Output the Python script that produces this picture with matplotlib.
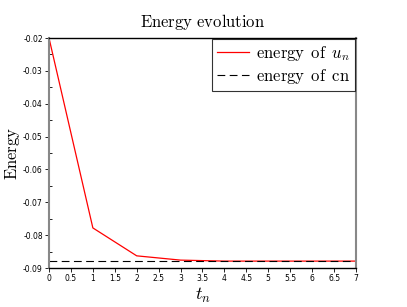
import matplotlib
matplotlib.use("Agg")
import matplotlib.pyplot as plt
from matplotlib.ticker import MultipleLocator

plt.rcParams['mathtext.fontset'] = 'cm'

t = [0, 1, 2, 3, 4, 5, 6, 7]
energy_u = [-0.0200, -0.0778, -0.0863, -0.0876, -0.0879, -0.0879, -0.0879, -0.0879]
energy_cn = -0.0879
xticks = [0, 0.5, 1, 1.5, 2, 2.5, 3, 3.5, 4, 4.5, 5, 5.5, 6, 6.5, 7]
yticks = [-0.09, -0.08, -0.07, -0.06, -0.05, -0.04, -0.03, -0.02]

fig = plt.figure(figsize=(4.07, 3.07), dpi=100)
ax = fig.add_axes([49/407, 39/307, 307/407, 230/307])

ax.plot(t, energy_u, color='red', lw=0.9, label=r'$\mathrm{energy\ \,of\ \,}u_n$')
ax.axhline(energy_cn, color='black', lw=0.8, dashes=(7, 4), label=r'$\mathrm{energy\ \,of\ \,cn}$')

ax.set_xlim(0, 7)
ax.set_ylim(-0.09, -0.02)
ax.set_xticks(xticks)
ax.set_xticklabels([f'{v:g}' for v in xticks])
ax.set_yticks(yticks)
ax.set_yticklabels([f'{v:.2f}' for v in yticks])
ax.yaxis.set_minor_locator(MultipleLocator(0.005))
ax.tick_params(axis='both', which='major', labelsize=5.5, length=3, width=0.6, direction='out', pad=1.5)
ax.tick_params(axis='y', which='minor', length=2, width=0.6, direction='in')

for s in ['left', 'right']:
    ax.spines[s].set_color('#888888')
    ax.spines[s].set_linewidth(1.5)
for s in ['top', 'bottom']:
    ax.spines[s].set_color('black')
    ax.spines[s].set_linewidth(1.0)

ax.set_title(r'$\mathrm{Energy\ evolution}$', fontsize=12, pad=8)
ax.set_xlabel(r'$t_n$', fontsize=13, labelpad=2)
fig.text(13/407, 1 - 153/307, r'$\mathrm{Energy}$', fontsize=12, rotation=90,
         ha='center', va='center')

leg = ax.legend(loc='upper right', fontsize=12, frameon=True, fancybox=False,
                borderaxespad=0.05, handlelength=1.9, handletextpad=0.45,
                labelspacing=0.25, borderpad=0.3)
leg.get_frame().set_edgecolor('black')
leg.get_frame().set_linewidth(0.8)

fig.savefig('out.png', dpi=100)
